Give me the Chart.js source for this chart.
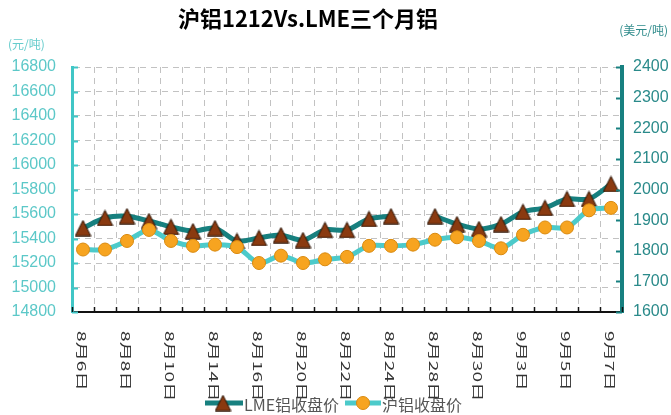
<!DOCTYPE html>
<html>
<head>
<meta charset="utf-8">
<script src="https://cdn.jsdelivr.net/npm/chart.js@4"></script>
<style>
  html, body { margin: 0; padding: 0; background: #ffffff; }
  #wrap { width: 671px; height: 415px; position: relative; }
</style>
</head>
<body>
<div id="wrap"><canvas id="c" width="671" height="415"></canvas></div>
<script>
// ---- data ----
const categories = ['8月6日','8月7日','8月8日','8月9日','8月10日','8月13日','8月14日','8月15日','8月16日','8月17日',
  '8月20日','8月21日','8月22日','8月23日','8月24日','8月27日','8月28日','8月29日','8月30日','8月31日',
  '9月3日','9月4日','9月5日','9月6日','9月7日'];
const lmeClose = [1874, 1907, 1913, 1897, 1878, 1864, 1874, 1832, 1842, 1851,
  1835, 1868, 1868, 1904, 1913, null, 1913, 1887, 1871, 1887,
  1927, 1940, 1969, 1969, 2018];
const shfeClose = [15310, 15310, 15380, 15470, 15380, 15340, 15350, 15330, 15200, 15260,
  15200, 15230, 15250, 15340, 15340, 15350, 15390, 15410, 15380, 15320,
  15430, 15490, 15490, 15630, 15650];
const leftTicks = { min: 14800, max: 16800, step: 200 };
const rightTicks = { min: 1600, max: 2400, step: 100 };
const titleText = '沪铝1212Vs.LME三个月铝';
const leftUnit = '(元/吨)';
const rightUnit = '(美元/吨)';
const seriesNames = ['LME铝收盘价', '沪铝收盘价'];

// ---- styles ----
const LME_LINE = '#17807f';
const SHFE_LINE = '#4ccaca';
const TRI_FILL = '#8a3a10';
const DOT_FILL = '#f7a420';
const LEFT_AXIS = '#40c6c6';
const RIGHT_AXIS = '#178080';

function makeTriangle() {
  const w = 17, h = 17;
  const cv = document.createElement('canvas');
  cv.width = w; cv.height = h;
  const g = cv.getContext('2d');
  g.beginPath();
  g.moveTo(w / 2, 0.8);
  g.lineTo(w - 0.8, h - 0.8);
  g.lineTo(0.8, h - 0.8);
  g.closePath();
  g.fillStyle = TRI_FILL;
  g.fill();
  g.lineWidth = 1;
  g.strokeStyle = '#2b1406';
  g.stroke();
  return cv;
}
const triImg = makeTriangle();
const FONT = '"Liberation Sans", Arial, sans-serif';
const CJK = '"Noto Sans CJK SC", "Noto Sans", sans-serif';

const decorPlugin = {
  id: 'decor',
  afterDraw(chart) {
    const ctx = chart.ctx;
    const xs = chart.scales.x, yl = chart.scales.y, yr = chart.scales.y1;
    const area = chart.chartArea;
    ctx.save();
    // inner tick marks
    ctx.lineWidth = 2;
    ctx.strokeStyle = LEFT_AXIS;
    yl.ticks.forEach((t) => {
      const y = Math.round(yl.getPixelForValue(t.value)) + 0.5;
      ctx.beginPath(); ctx.moveTo(area.left, y); ctx.lineTo(area.left + 6, y); ctx.stroke();
    });
    ctx.strokeStyle = RIGHT_AXIS;
    yr.ticks.forEach((t) => {
      const y = Math.round(yr.getPixelForValue(t.value)) + 0.5;
      ctx.beginPath(); ctx.moveTo(area.right, y); ctx.lineTo(area.right - 6, y); ctx.stroke();
    });
    ctx.strokeStyle = '#111';
    ctx.lineWidth = 1.5;
    const half = (xs.getPixelForValue(1) - xs.getPixelForValue(0)) / 2;
    for (let i = 0; i <= categories.length; i++) {
      const x = Math.round(xs.getPixelForValue(0) - half + i * half * 2) + 0.5;
      ctx.beginPath(); ctx.moveTo(x, area.bottom); ctx.lineTo(x, area.bottom - 5); ctx.stroke();
    }
    // x labels, rotated clockwise, every other category
    ctx.fillStyle = '#333';
    ctx.font = '12px ' + CJK;
    ctx.textAlign = 'left';
    ctx.textBaseline = 'middle';
    for (let i = 0; i < categories.length; i += 2) {
      const x = xs.getPixelForValue(i) - 1;
      ctx.save();
      ctx.translate(x, area.bottom + 19);
      ctx.rotate(Math.PI / 2);
      ctx.scale(1.6, 1);
      ctx.fillText(categories[i], 0, 0);
      ctx.restore();
    }
    // title
    ctx.fillStyle = '#000';
    ctx.font = 'bold 22px ' + CJK;
    ctx.textAlign = 'center';
    ctx.textBaseline = 'middle';
    ctx.fillText(titleText, 308, 19);
    // units
    ctx.font = '12px ' + CJK;
    ctx.fillStyle = '#66cccc';
    ctx.textAlign = 'left';
    ctx.fillText(leftUnit, 8, 44);
    ctx.fillStyle = '#2e8b8b';
    ctx.textAlign = 'right';
    ctx.fillText(rightUnit, 668, 30);
    // legend
    const ly = 403;
    ctx.lineWidth = 5;
    ctx.strokeStyle = LME_LINE;
    ctx.beginPath(); ctx.moveTo(205, ly); ctx.lineTo(243, ly); ctx.stroke();
    ctx.drawImage(triImg, 223 - triImg.width / 2, ly - triImg.height / 2);
    ctx.strokeStyle = SHFE_LINE;
    ctx.beginPath(); ctx.moveTo(345, ly); ctx.lineTo(381, ly); ctx.stroke();
    ctx.beginPath(); ctx.arc(363, ly, 6.5, 0, Math.PI * 2);
    ctx.fillStyle = DOT_FILL; ctx.fill();
    ctx.lineWidth = 1; ctx.strokeStyle = '#d98a10'; ctx.stroke();
    ctx.fillStyle = '#555';
    ctx.font = '16px ' + CJK;
    ctx.textAlign = 'left';
    ctx.textBaseline = 'middle';
    ctx.fillText(seriesNames[0], 244, 405);
    ctx.fillText(seriesNames[1], 382, 405);
    ctx.restore();
  }
};

const plainNum = (v) => String(v);

new Chart(document.getElementById('c'), {
  type: 'line',
  data: {
    labels: categories,
    datasets: [
      {
        label: seriesNames[0],
        data: lmeClose,
        yAxisID: 'y1',
        borderColor: LME_LINE,
        borderWidth: 5,
        tension: 0.3,
        spanGaps: false,
        pointStyle: triImg,
        pointRadius: 9,
        order: 1
      },
      {
        label: seriesNames[1],
        data: shfeClose,
        yAxisID: 'y',
        borderColor: SHFE_LINE,
        borderWidth: 5,
        tension: 0.3,
        pointStyle: 'circle',
        pointRadius: 6.5,
        pointBackgroundColor: DOT_FILL,
        pointBorderColor: '#d98a10',
        pointBorderWidth: 1,
        order: 0
      }
    ]
  },
  options: {
    responsive: false,
    animation: false,
    devicePixelRatio: 1,
    layout: { padding: { left: 0, right: 0, top: 67, bottom: 103 } },
    plugins: { legend: { display: false }, title: { display: false }, tooltip: { enabled: false } },
    scales: {
      x: {
        type: 'category',
        offset: true,
        afterFit(s) { s.height = 0; },
        ticks: { display: false },
        grid: { offset: true, drawTicks: false, color: '#c2c2c2', lineWidth: 1 },
        border: { color: '#111', width: 2, dash: [6, 5] }
      },
      y: {
        position: 'left',
        min: leftTicks.min, max: leftTicks.max,
        afterFit(s) { s.width = 72; },
        ticks: { stepSize: leftTicks.step, callback: plainNum, color: '#5cc8c8', font: { size: 16, family: FONT }, padding: 16 },
        grid: { drawTicks: false, color: '#c2c2c2', lineWidth: 1 },
        border: { color: LEFT_AXIS, width: 3, dash: [6, 5] }
      },
      y1: {
        position: 'right',
        min: rightTicks.min, max: rightTicks.max,
        afterFit(s) { s.width = 49; },
        ticks: { stepSize: rightTicks.step, callback: plainNum, color: '#2a8a8a', font: { size: 16, family: FONT }, padding: 11 },
        grid: { display: false, drawTicks: false },
        border: { display: true, color: RIGHT_AXIS, width: 4 }
      }
    }
  },
  plugins: [decorPlugin]
});
</script>
</body>
</html>
